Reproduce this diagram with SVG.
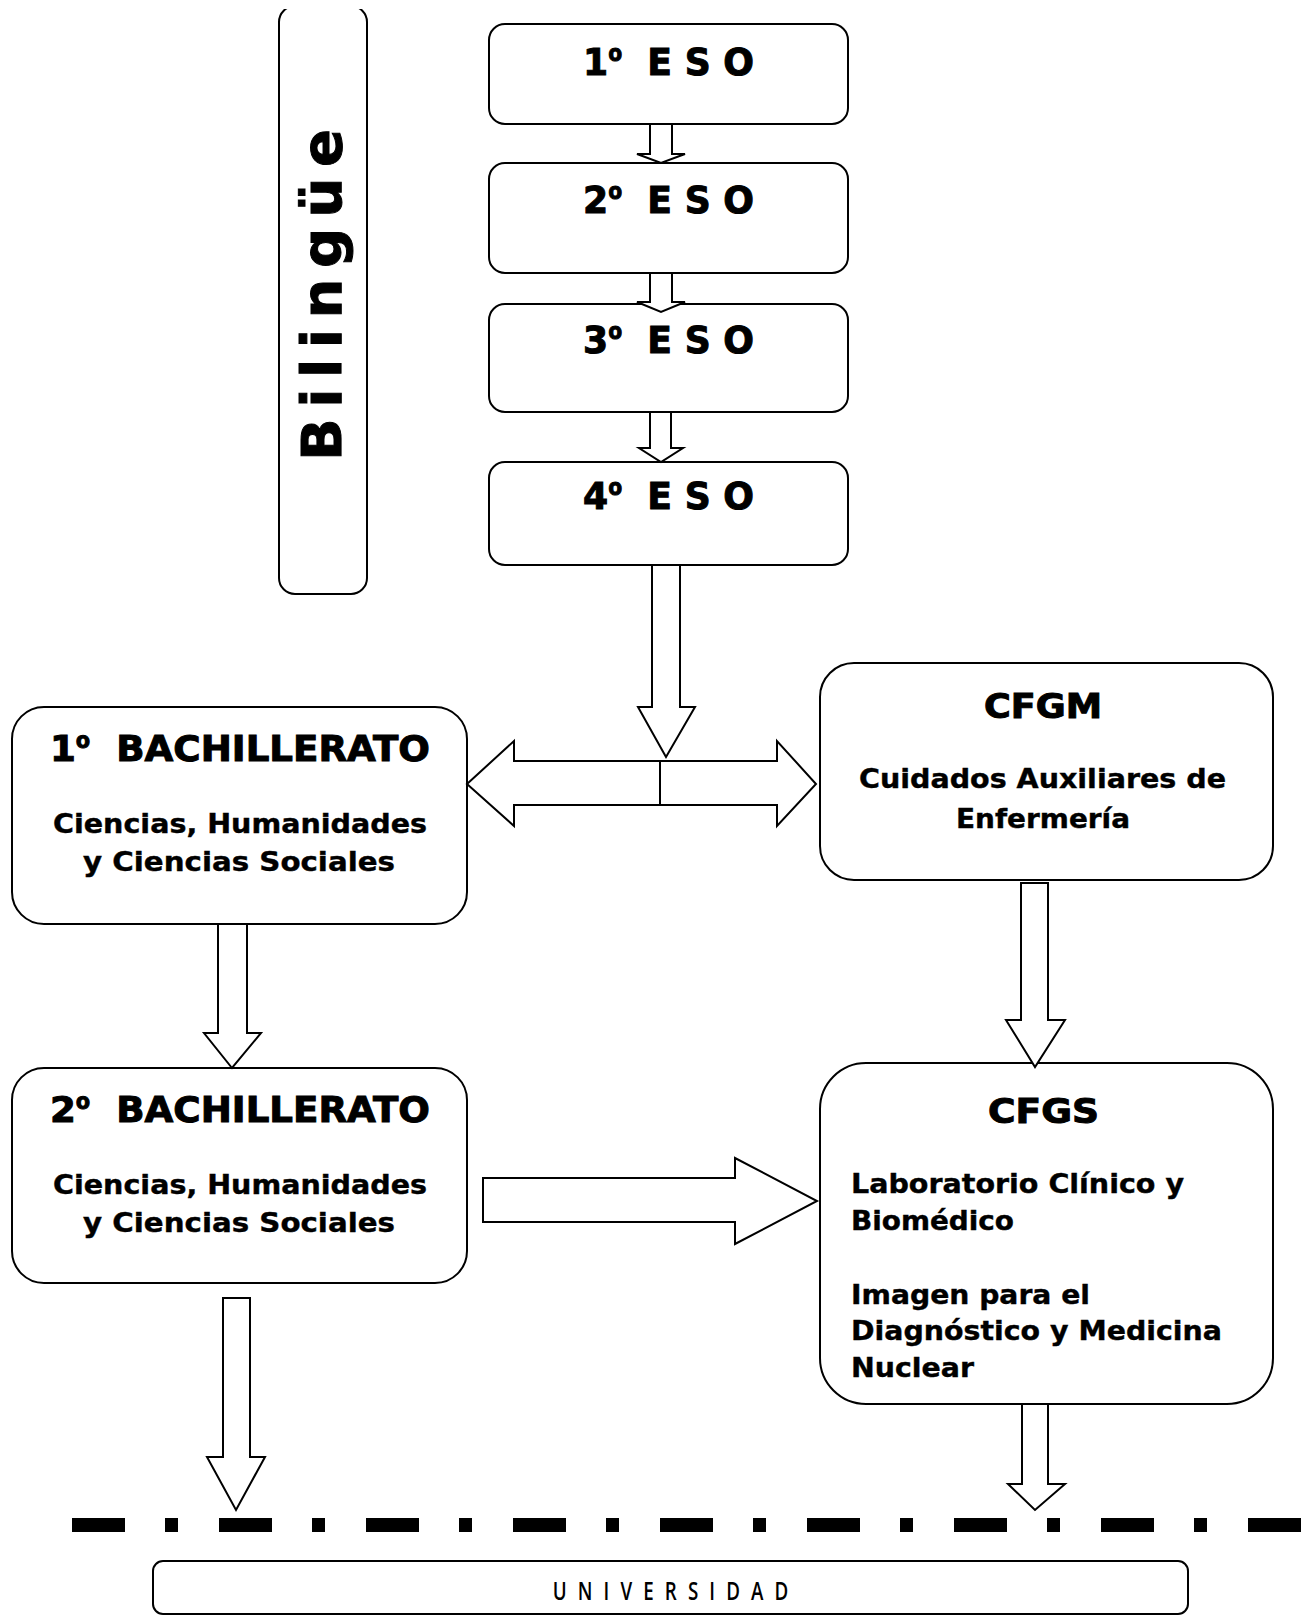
<svg xmlns="http://www.w3.org/2000/svg" width="1304" height="1617" viewBox="0 0 1304 1617">
<style>
.box{fill:#fff;stroke:#000;stroke-width:2}
.arr{fill:#fff;stroke:#000;stroke-width:2;stroke-linejoin:miter}
.t{font-family:"DejaVu Sans","Liberation Sans",sans-serif;font-weight:bold;fill:#000;stroke:#000;stroke-width:1}
.s{font-family:"DejaVu Sans","Liberation Sans",sans-serif;font-weight:bold;fill:#000;stroke:#000;stroke-width:0.4}
.o{font-family:"Open Sans","Roboto",sans-serif;font-weight:bold}
.u{font-family:"Open Sans","Liberation Sans",sans-serif;font-size:25px;font-weight:600;fill:#000}
</style>
<defs>
<clipPath id="topclip"><rect x="0" y="9" width="1304" height="1608"/></clipPath>
</defs>
<rect width="1304" height="1617" fill="#fff"/>

<g id="bilingue">
<rect class="box" x="279" y="6" width="88" height="588" rx="16" clip-path="url(#topclip)"/>
<text class="t" transform="translate(341,295) rotate(-90)" x="0" y="0" text-anchor="middle" font-size="56" textLength="332" lengthAdjust="spacing">Bilingüe</text>
</g>

<g id="eso1">
<rect class="box" x="489" y="24" width="359" height="100" rx="16"/>
<text class="t" x="583" y="75" font-size="37" textLength="171" lengthAdjust="spacingAndGlyphs" xml:space="preserve">1<tspan class="o">º</tspan>  E S O</text>
</g>
<g id="eso2">
<rect class="box" x="489" y="163" width="359" height="110" rx="16"/>
<text class="t" x="583" y="213" font-size="37" textLength="171" lengthAdjust="spacingAndGlyphs" xml:space="preserve">2<tspan class="o">º</tspan>  E S O</text>
</g>
<g id="eso3">
<rect class="box" x="489" y="304" width="359" height="108" rx="16"/>
<text class="t" x="583" y="353" font-size="37" textLength="171" lengthAdjust="spacingAndGlyphs" xml:space="preserve">3<tspan class="o">º</tspan>  E S O</text>
</g>
<g id="eso4">
<rect class="box" x="489" y="462" width="359" height="103" rx="16"/>
<text class="t" x="583" y="509" font-size="37" textLength="171" lengthAdjust="spacingAndGlyphs" xml:space="preserve">4<tspan class="o">º</tspan>  E S O</text>
</g>

<g id="bach1">
<rect class="box" x="12" y="707" width="455" height="217" rx="32"/>
<text class="t" x="50" y="761" font-size="35" textLength="380" lengthAdjust="spacingAndGlyphs" xml:space="preserve">1<tspan class="o">º</tspan>  BACHILLERATO</text>
<text class="s" x="53" y="833" font-size="26" textLength="374" lengthAdjust="spacingAndGlyphs">Ciencias, Humanidades</text>
<text class="s" x="83" y="871" font-size="26" textLength="312" lengthAdjust="spacingAndGlyphs">y Ciencias Sociales</text>
</g>

<g id="cfgm">
<rect class="box" x="820" y="663" width="453" height="217" rx="34"/>
<text class="t" x="984" y="718" font-size="33" textLength="118" lengthAdjust="spacingAndGlyphs">CFGM</text>
<text class="s" x="859" y="788" font-size="27" textLength="367" lengthAdjust="spacingAndGlyphs">Cuidados Auxiliares de</text>
<text class="s" x="956" y="828" font-size="27" textLength="174" lengthAdjust="spacingAndGlyphs">Enfermería</text>
</g>

<g id="bach2">
<rect class="box" x="12" y="1068" width="455" height="215" rx="32"/>
<text class="t" x="50" y="1122" font-size="35" textLength="380" lengthAdjust="spacingAndGlyphs" xml:space="preserve">2<tspan class="o">º</tspan>  BACHILLERATO</text>
<text class="s" x="53" y="1194" font-size="26" textLength="374" lengthAdjust="spacingAndGlyphs">Ciencias, Humanidades</text>
<text class="s" x="83" y="1232" font-size="26" textLength="312" lengthAdjust="spacingAndGlyphs">y Ciencias Sociales</text>
</g>

<g id="cfgs">
<rect class="box" x="820" y="1063" width="453" height="341" rx="46"/>
<text class="t" x="988" y="1123" font-size="33" textLength="111" lengthAdjust="spacingAndGlyphs">CFGS</text>
<text class="s" x="851" y="1193" font-size="27" textLength="333" lengthAdjust="spacingAndGlyphs">Laboratorio Clínico y</text>
<text class="s" x="851" y="1230" font-size="27" textLength="163" lengthAdjust="spacingAndGlyphs">Biomédico</text>
<text class="s" x="851" y="1304" font-size="27" textLength="239" lengthAdjust="spacingAndGlyphs">Imagen para el</text>
<text class="s" x="851" y="1340" font-size="27" textLength="371" lengthAdjust="spacingAndGlyphs">Diagnóstico y Medicina</text>
<text class="s" x="851" y="1377" font-size="27" textLength="123" lengthAdjust="spacingAndGlyphs">Nuclear</text>
</g>

<g id="universidad">
<rect class="box" x="153" y="1561" width="1035" height="53" rx="10"/>
<text class="u" transform="scale(0.75,1)" x="737" y="1600" textLength="314" lengthAdjust="spacing">UNIVERSIDAD</text>
</g>

<g id="connectors">
<polygon class="arr" points="650,124 672,124 672,154 685,154 661,163 637,154 650,154"/>
<polygon class="arr" points="650,273 672,273 672,302 685,302 661,312 637,302 650,302"/>
<polygon class="arr" points="650,412 671,412 671,448 683,448 661,462 639,448 650,448"/>
<polygon class="arr" points="652,565 680,565 680,707 695,707 666,757 638,707 652,707"/>
<polygon class="arr" points="467,784 514,741 514,761 777,761 777,741 816,784 777,826 777,805 514,805 514,826"/>
<line x1="660" y1="761" x2="660" y2="805" stroke="#000" stroke-width="2"/>
<polygon class="arr" points="218,924 247,924 247,1033 261,1033 232,1068 204,1033 218,1033"/>
<polygon class="arr" points="1021,883 1048,883 1048,1020 1065,1020 1035,1067 1006,1020 1021,1020"/>
<polygon class="arr" points="483,1178 735,1178 735,1158 817,1201 735,1244 735,1222 483,1222"/>
<polygon class="arr" points="223,1298 250,1298 250,1457 265,1457 236,1510 207,1457 223,1457"/>
<polygon class="arr" points="1022,1404 1048,1404 1048,1484 1065,1484 1035,1510 1008,1484 1022,1484"/>
<line x1="72" y1="1525" x2="1304" y2="1525" stroke="#000" stroke-width="14" stroke-dasharray="53 40 13 41"/>
</g>
</svg>
